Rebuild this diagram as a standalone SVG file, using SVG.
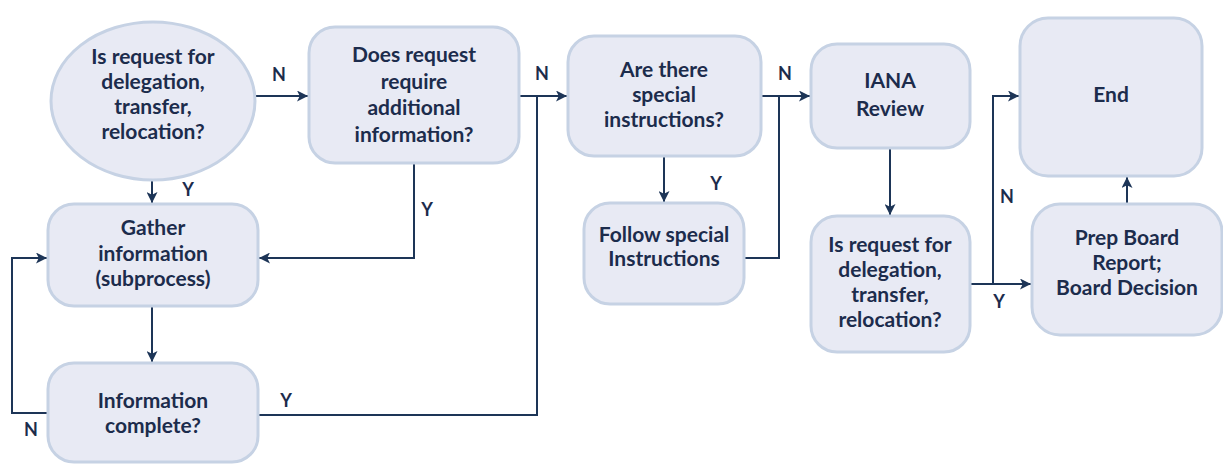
<svg xmlns="http://www.w3.org/2000/svg" width="1223" height="466" viewBox="0 0 1223 466">
<style>
.node{fill:#e8eaf4;stroke:#c6d2e4;stroke-width:3}
.t{font-family:Lato,"Liberation Sans",sans-serif;font-weight:bold;font-size:21px;fill:#1c2c4c;text-anchor:middle}
.lbl{font-family:Lato,"Liberation Sans",sans-serif;font-weight:bold;font-size:18px;fill:#1c2c4c;text-anchor:middle}
.c{fill:none;stroke:#1d3557;stroke-width:2}
</style>
<defs>
<marker id="ah" viewBox="0 0 10 10" refX="10" refY="5" markerWidth="11" markerHeight="11" markerUnits="userSpaceOnUse" orient="auto">
<path d="M0,0 L10,5 L0,10 L2.5,5 z" fill="#1d3557"/>
</marker>
</defs>
<rect width="1223" height="466" fill="#ffffff"/>
<g id="connectors">
<path class="c" d="M255,96 H308" marker-end="url(#ah)"/>
<path class="c" d="M519,96 H567" marker-end="url(#ah)"/>
<path class="c" d="M258,415 H537 V96"/>
<path class="c" d="M664,156 V202" marker-end="url(#ah)"/>
<path class="c" d="M761,96 H810" marker-end="url(#ah)"/>
<path class="c" d="M744,258 H779 V96"/>
<path class="c" d="M890,148 V215" marker-end="url(#ah)"/>
<path class="c" d="M970,284 H1031" marker-end="url(#ah)"/>
<path class="c" d="M993,284 V96 H1019" marker-end="url(#ah)"/>
<path class="c" d="M1127,204 V177" marker-end="url(#ah)"/>
<path class="c" d="M152,180 V203" marker-end="url(#ah)"/>
<path class="c" d="M414,163 V258 H259" marker-end="url(#ah)"/>
<path class="c" d="M152,306 V362" marker-end="url(#ah)"/>
<path class="c" d="M47,413 H12 V258 H47" marker-end="url(#ah)"/>
<text class="lbl" x="279" y="81">N</text>
<text class="lbl" x="542" y="80">N</text>
<text class="lbl" x="785" y="80">N</text>
<text class="lbl" x="188" y="196">Y</text>
<text class="lbl" x="427" y="216">Y</text>
<text class="lbl" x="716" y="190">Y</text>
<text class="lbl" x="1007" y="203">N</text>
<text class="lbl" x="999" y="308">Y</text>
<text class="lbl" x="31" y="436">N</text>
<text class="lbl" x="286" y="407">Y</text>
</g>
<g id="n1">
<ellipse class="node" cx="153" cy="101" rx="102" ry="79"/>
<text class="t" x="153" y="64">Is request for</text>
<text class="t" x="153" y="89">delegation,</text>
<text class="t" x="153" y="114">transfer,</text>
<text class="t" x="153" y="139">relocation?</text>
</g>
<g id="n2">
<rect class="node" x="309" y="27" width="210" height="136" rx="26"/>
<text class="t" x="414" y="62">Does request</text>
<text class="t" x="414" y="89">require</text>
<text class="t" x="414" y="115">additional</text>
<text class="t" x="414" y="142">information?</text>
</g>
<g id="n3">
<rect class="node" x="568" y="36" width="193" height="120" rx="26"/>
<text class="t" x="664" y="77">Are there</text>
<text class="t" x="664" y="102">special</text>
<text class="t" x="664" y="127">instructions?</text>
</g>
<g id="n4">
<rect class="node" x="584" y="203" width="160" height="101" rx="26"/>
<text class="t" x="664" y="242">Follow special</text>
<text class="t" x="664" y="266">Instructions</text>
</g>
<g id="n5">
<rect class="node" x="811" y="44" width="159" height="104" rx="26"/>
<text class="t" x="890" y="88">IANA</text>
<text class="t" x="890" y="116">Review</text>
</g>
<g id="n6">
<rect class="node" x="811" y="216" width="159" height="136" rx="26"/>
<text class="t" x="890" y="252">Is request for</text>
<text class="t" x="890" y="277">delegation,</text>
<text class="t" x="890" y="302">transfer,</text>
<text class="t" x="890" y="327">relocation?</text>
</g>
<g id="n7">
<rect class="node" x="1020" y="18" width="182" height="158" rx="28"/>
<text class="t" x="1111" y="102">End</text>
</g>
<g id="n8">
<rect class="node" x="1032" y="204" width="190" height="131" rx="28"/>
<text class="t" x="1127" y="245">Prep Board</text>
<text class="t" x="1127" y="270">Report;</text>
<text class="t" x="1127" y="295">Board Decision</text>
</g>
<g id="n9">
<rect class="node" x="48" y="204" width="210" height="102" rx="26"/>
<text class="t" x="153" y="235">Gather</text>
<text class="t" x="153" y="261">information</text>
<text class="t" x="153" y="286">(subprocess)</text>
</g>
<g id="n10">
<rect class="node" x="48" y="363" width="210" height="99" rx="26"/>
<text class="t" x="153" y="408">Information</text>
<text class="t" x="153" y="433">complete?</text>
</g>
</svg>
